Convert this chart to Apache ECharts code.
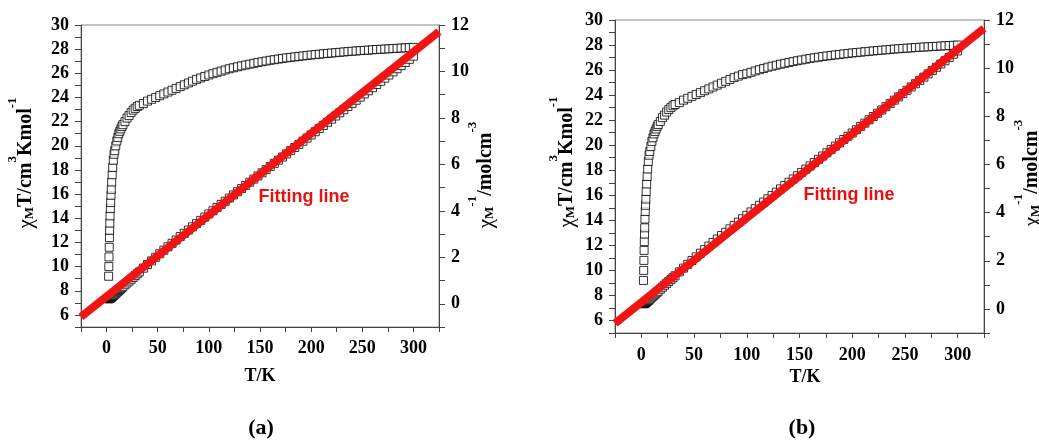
<!DOCTYPE html>
<html><head><meta charset="utf-8">
<script src="https://cdn.jsdelivr.net/npm/echarts@6/dist/echarts.min.js"></script>
<style>html,body{margin:0;padding:0;background:#fff}#c{width:1039px;height:440px}</style>
</head><body><div id="c"></div>
<script>
// temperatures (K), shared by both panels
const temps = [2.0,2.2,2.4,2.6,2.8,3.0,3.2,3.4,3.7,4.0,4.3,4.6,5.0,5.5,6.0,6.6,7.3,8.0,9,10,11,12,13,14,15,16,
  18,20,22,24,26,28,30,
  32,36,40,44,48,52,56,60,64,68,72,76,80,84,88,92,96,
  100,104,108,112,116,120,124,128,132,136,140,144,148,152,156,160,164,168,172,176,180,184,188,192,196,
  200,204,208,212,216,220,224,228,232,236,240,244,248,252,256,260,264,268,272,276,280,284,288,292,296,300];
// panel (a): chiM*T (left axis)
const chiTA = [9.2,10.0,10.8,11.6,12.4,13.0,13.6,14.2,14.8,15.3,15.9,16.4,17.0,17.6,18.2,18.8,19.3,19.6,20.0,20.4,20.7,21.0,21.2,21.4,21.6,21.75,
  22.0,22.3,22.5,22.75,22.95,23.1,23.25,
  23.35,23.5,23.7,23.85,24.0,24.15,24.3,24.45,24.6,24.75,24.9,25.05,25.2,25.35,25.5,25.62,25.74,
  25.86,25.97,26.08,26.18,26.28,26.38,26.46,26.54,26.62,26.69,26.76,26.83,26.9,26.96,27.02,27.08,27.13,27.18,27.23,27.28,27.32,27.36,27.4,27.44,27.48,
  27.52,27.55,27.58,27.62,27.65,27.68,27.71,27.74,27.77,27.8,27.83,27.85,27.88,27.9,27.92,27.95,27.97,27.99,28.01,28.03,28.05,28.07,28.09,28.11,28.13,28.15];
// panel (a): 1/chiM (right axis)
const invChiA = [0.217,0.22,0.222,0.224,0.226,0.231,0.235,0.239,0.25,0.261,0.27,0.28,0.294,0.313,0.33,0.351,0.378,0.408,0.45,0.49,0.531,0.571,0.613,0.654,0.694,0.736,
  0.818,0.897,0.978,1.055,1.133,1.212,1.29,
  1.37,1.532,1.688,1.845,2.0,2.153,2.305,2.454,2.602,2.747,2.892,3.034,3.175,3.314,3.451,3.591,3.73,
  3.867,4.005,4.141,4.278,4.414,4.549,4.686,4.823,4.959,5.096,5.232,5.367,5.502,5.638,5.773,5.908,6.045,6.181,6.317,6.452,6.589,6.725,6.861,6.997,7.132,
  7.267,7.405,7.542,7.676,7.812,7.948,8.084,8.219,8.354,8.489,8.624,8.761,8.895,9.032,9.169,9.302,9.439,9.575,9.711,9.847,9.982,10.118,10.253,10.388,10.523,10.657];
// panel (b): chiM*T (left axis)
const chiTB = [9.2,10.0,10.8,11.6,12.3,12.9,13.4,14.1,14.7,15.2,15.7,16.3,16.9,17.5,18.1,18.7,19.2,19.5,19.9,20.3,20.6,20.9,21.1,21.3,21.5,21.65,
  21.9,22.2,22.4,22.65,22.85,23.0,23.15,
  23.25,23.4,23.6,23.75,23.9,24.05,24.2,24.35,24.5,24.65,24.8,24.95,25.1,25.25,25.4,25.52,25.64,
  25.71,25.82,25.93,26.03,26.13,26.23,26.31,26.39,26.47,26.54,26.61,26.68,26.75,26.81,26.87,26.93,26.98,27.03,27.08,27.13,27.17,27.21,27.25,27.29,27.33,
  27.37,27.4,27.43,27.47,27.5,27.53,27.56,27.59,27.62,27.65,27.68,27.7,27.73,27.75,27.77,27.8,27.82,27.84,27.86,27.88,27.9,27.92,27.94,27.96,27.98,28.0];
// panel (b): 1/chiM (right axis)
const invChiB = [0.217,0.22,0.222,0.224,0.228,0.233,0.239,0.241,0.252,0.263,0.274,0.282,0.296,0.314,0.331,0.353,0.38,0.41,0.452,0.493,0.534,0.574,0.616,0.657,0.698,0.739,
  0.822,0.901,0.982,1.06,1.138,1.217,1.296,
  1.376,1.538,1.695,1.853,2.008,2.162,2.314,2.464,2.612,2.759,2.903,3.046,3.187,3.327,3.465,3.605,3.744,
  3.89,4.028,4.165,4.303,4.439,4.575,4.713,4.85,4.987,5.124,5.261,5.397,5.533,5.67,5.806,5.941,6.079,6.215,6.352,6.487,6.625,6.762,6.899,7.036,7.172,
  7.307,7.445,7.583,7.718,7.855,7.991,8.128,8.264,8.4,8.535,8.671,8.809,8.943,9.081,9.218,9.353,9.49,9.626,9.763,9.9,10.036,10.172,10.308,10.443,10.579,10.714];
// fitting lines (Curie-Weiss), right axis
const fitT = [-25, 325];
const fitA = [-0.56, 11.71];
const fitB = [-0.6, 11.65];
// tick labels
const xTicks = [0,50,100,150,200,250,300];
const leftTicks = [6,8,10,12,14,16,18,20,22,24,26,28,30];
const rightTicks = [0,2,4,6,8,10,12];

const zip = (a, b) => a.map((v, i) => [v, b[i]]);
const serif = '"Liberation Serif","Times New Roman",serif';
const axColor = '#444';
const lblStyle = {fontFamily: serif, fontWeight: 'bold', fontSize: 18, color: '#000'};

function xAx(gi, margin) {
  return {type: 'value', gridIndex: gi, min: -25, max: 325, interval: 25,
    axisLine: {show: true, onZero: false, lineStyle: {color: axColor, width: 1}},
    axisTick: {show: true, length: 5, lineStyle: {color: axColor}},
    splitLine: {show: false},
    axisLabel: Object.assign({margin: margin, formatter: v => xTicks.includes(v) ? String(v) : ''}, lblStyle)};
}
function yAx(gi, pos, min, max, ticks, margin) {
  return {type: 'value', gridIndex: gi, position: pos, min: min, max: max, interval: 1,
    axisLine: {show: true, onZero: false, lineStyle: {color: axColor, width: 1}},
    axisTick: {show: true, length: 6, lineStyle: {color: axColor}},
    splitLine: {show: false},
    axisLabel: Object.assign({margin: margin, formatter: v => ticks.includes(v) ? String(v) : ''}, lblStyle)};
}
const sq = {color: '#fff', borderColor: '#000', borderWidth: 1};
function scat(xi, yi, data) {
  return {type: 'scatter', xAxisIndex: xi, yAxisIndex: yi, data: data, symbol: 'rect', symbolSize: 8,
    itemStyle: sq, z: 2, silent: true};
}
function fit(xi, yi, vals) {
  return {type: 'line', xAxisIndex: xi, yAxisIndex: yi, data: zip(fitT, vals), showSymbol: false,
    lineStyle: {color: '#f01414', width: 8}, z: 5, silent: true};
}
const rich = {
  c: {fontFamily: serif, fontSize: 21, fill: '#000'},
  m: {fontFamily: serif, fontWeight: 'bold', fontSize: 20, fill: '#000'},
  s: {fontFamily: serif, fontWeight: 'bold', fontSize: 13, fill: '#000', padding: [8, 0, 0, 0]},
  p: {fontFamily: serif, fontWeight: 'bold', fontSize: 13, fill: '#000', padding: [0, 0, 26, 0]}
};
const leftTitle = '{c|χ}{s|M}{m|T/cm}{p|3}{m|Kmol}{p|-1}';
const rightTitle = '{c|χ}{s|M}{p|-1}{m|/molcm}{p|-3}';
function title(x, y, txt) {
  return {type: 'text', x: x, y: y, rotation: Math.PI / 2, silent: true,
    style: {text: txt, rich: rich, align: 'center', verticalAlign: 'middle'}};
}
function plain(x, y, txt, size, fam, color, weight) {
  return {type: 'text', x: x, y: y, silent: true,
    style: {text: txt, fontFamily: fam, fontSize: size, fontWeight: weight || 'bold', fill: color, align: 'center', verticalAlign: 'middle'}};
}

const chart = echarts.init(document.getElementById('c'), null, {renderer: 'canvas'});
chart.setOption({
  animation: false,
  backgroundColor: '#fff',
  grid: [
    {left: 81, top: 25, width: 358, height: 302, show: true, borderColor: '#888', borderWidth: 1, backgroundColor: 'transparent'},
    {left: 615, top: 20, width: 369, height: 313, show: true, borderColor: '#888', borderWidth: 1, backgroundColor: 'transparent'}
  ],
  xAxis: [xAx(0, 12), xAx(1, 13)],
  yAxis: [
    yAx(0, 'left', 5, 30, leftTicks, 12),
    yAx(0, 'right', -1, 12, rightTicks, 12),
    yAx(1, 'left', 5, 30, leftTicks, 12),
    yAx(1, 'right', -1, 12, rightTicks, 12)
  ],
  series: [
    scat(0, 0, zip(temps, chiTA)),
    scat(0, 1, zip(temps, invChiA)),
    fit(0, 1, fitA),
    scat(1, 2, zip(temps, chiTB)),
    scat(1, 3, zip(temps, invChiB)),
    fit(1, 3, fitB)
  ],
  graphic: [
    title(26, 163, leftTitle),
    title(486, 175, rightTitle),
    title(567, 162, leftTitle),
    title(1032, 173, rightTitle),
    plain(260, 376, 'T/K', 18, serif, '#000'),
    plain(805, 377, 'T/K', 18, serif, '#000'),
    plain(261, 428, '(a)', 22, serif, '#000'),
    plain(802, 428, '(b)', 22, serif, '#000'),
    plain(304, 197, 'Fitting line', 18, '"Liberation Sans",Arial,sans-serif', '#e81010'),
    plain(849, 195, 'Fitting line', 18, '"Liberation Sans",Arial,sans-serif', '#e81010')
  ]
});
</script></body></html>
